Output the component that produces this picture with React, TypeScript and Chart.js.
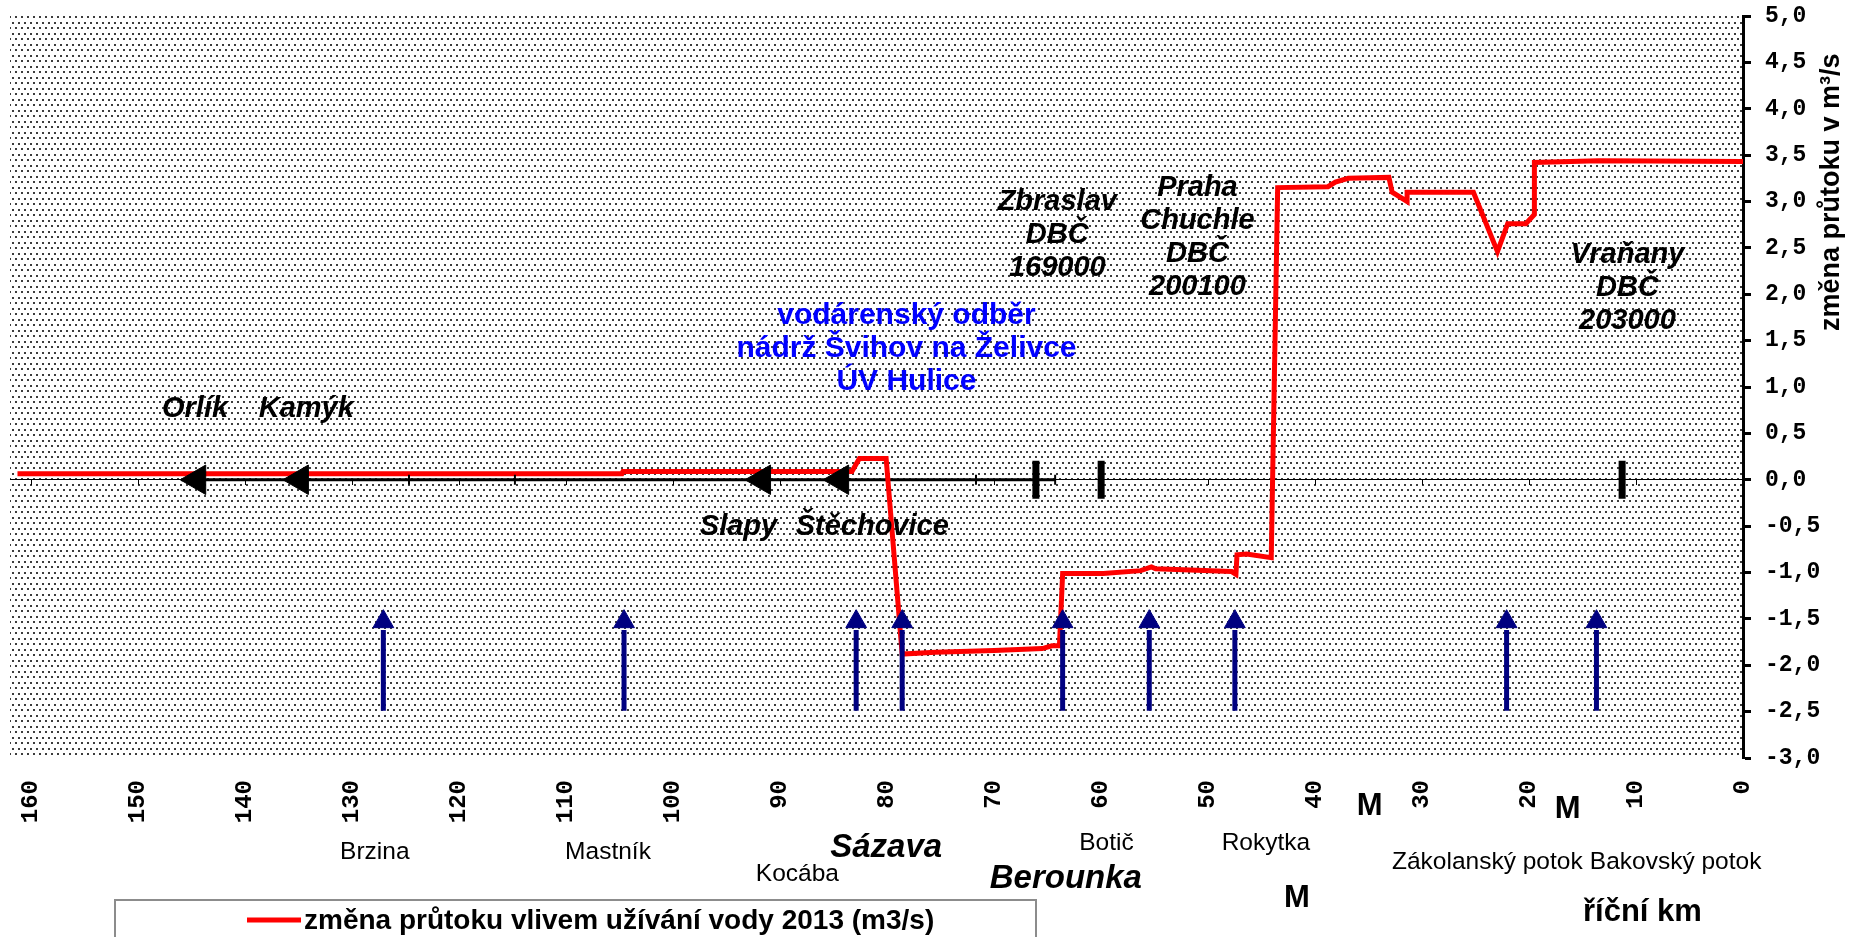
import React, { useEffect, useRef } from 'react';
import { Chart, registerables } from 'chart.js';

Chart.register(...registerables);

const W = 1858;
const H = 937;

// ---- data ----
const seriesLabel = 'změna průtoku vlivem užívání vody 2013 (m3/s)';
const flowKm = [161.3, 104.8, 104.7, 83.3, 82.6, 80.1, 78.6, 75.5, 70.0, 65.5, 64.6, 63.9, 63.6, 59.8, 56.3, 55.3, 54.9, 47.8, 47.4, 47.3, 46.4, 44.1, 43.5, 38.8, 38.1, 36.9, 33.1, 32.8, 31.4, 31.4, 25.2, 22.95, 22.0, 20.3, 19.5, 19.5, 13.5, 0];
const flowChange = [0.065, 0.065, 0.088, 0.088, 0.23, 0.23, -1.88, -1.86, -1.84, -1.82, -1.79, -1.79, -1.01, -1.01, -0.98, -0.94, -0.96, -0.99, -1.02, -0.81, -0.80, -0.84, 3.15, 3.16, 3.21, 3.25, 3.26, 3.10, 3.00, 3.10, 3.10, 2.46, 2.76, 2.76, 2.86, 3.42, 3.44, 3.43];

const vltavaKm = [146.0, 64.3];
const reservoirKm = [144.5, 134.9, 91.7, 84.4];
const gaugeKm = [66.1, 60.0, 11.3];
const markKm = [124.7, 114.8, 71.7, 64.3];
const tributaryKm = [127.1, 104.6, 82.9, 78.6, 63.6, 55.5, 47.5, 22.1, 13.7];
const arrowShaftFrom = -2.49;
const arrowShaftTo = -1.62;
const arrowHeadAt = -1.53;

const xTickValues = [0, 10, 20, 30, 40, 50, 60, 70, 80, 90, 100, 110, 120, 130, 140, 150, 160];
const xTickLabels = ['0', '10', '20', '30', '40', '50', '60', '70', '80', '90', '100', '110', '120', '130', '140', '150', '160'];
const yTickValues = [-3, -2.5, -2, -1.5, -1, -0.5, 0, 0.5, 1, 1.5, 2, 2.5, 3, 3.5, 4, 4.5, 5];
const yTickLabels = ['-3,0', '-2,5', '-2,0', '-1,5', '-1,0', '-0,5', '0,0', '0,5', '1,0', '1,5', '2,0', '2,5', '3,0', '3,5', '4,0', '4,5', '5,0'];
const yAxisTitle = 'změna průtoku v m³/s';

const SANS = '"Liberation Sans", Arial, sans-serif';
const MONO = '"Liberation Mono", "Courier New", monospace';

// target plot-area edges in the 1858x937 picture
const AREA = { left: 10, top: 16, right: 1743, bottom: 758 };

// notes inside the plot, anchored in data units
const plotNotes = [
  { lines: ['Orlík'], km: 144.7, value: 0.766, style: 'bi', color: '#000' },
  { lines: ['Kamýk'], km: 134.3, value: 0.766, style: 'bi', color: '#000' },
  { lines: ['Slapy'], km: 93.9, value: -0.507, style: 'bi', color: '#000' },
  { lines: ['Štěchovice'], km: 81.4, value: -0.507, style: 'bi', color: '#000' },
  { lines: ['vodárenský odběr', 'nádrž Švihov na Želivce', 'ÚV Hulice'], km: 78.2, value: 1.413, style: 'b', color: '#0000ff' },
  { lines: ['Zbraslav', 'DBČ', '169000'], km: 64.1, value: 2.643, style: 'bi', color: '#000' },
  { lines: ['Praha', 'Chuchle', 'DBČ', '200100'], km: 51.0, value: 2.61, style: 'bi', color: '#000' },
  { lines: ['Vraňany', 'DBČ', '203000'], km: 10.8, value: 2.071, style: 'bi', color: '#000' },
];

// notes under the axis (km, offset below plot)
const axisNotes = [
  { text: 'Brzina', km: 127.9, dy: 94, style: 'r' },
  { text: 'Mastník', km: 106.1, dy: 94, style: 'r' },
  { text: 'Kocába', km: 88.4, dy: 116, style: 'r' },
  { text: 'Sázava', km: 80.1, dy: 90, style: 'big' },
  { text: 'Berounka', km: 63.3, dy: 121, style: 'big' },
  { text: 'Botič', km: 59.5, dy: 85, style: 'r' },
  { text: 'Rokytka', km: 44.6, dy: 85, style: 'r' },
  { text: 'Zákolanský potok', km: 23.9, dy: 104, style: 'r' },
  { text: 'Bakovský potok', km: 6.3, dy: 104, style: 'r' },
  { text: 'M', km: 34.9, dy: 48, style: 'm' },
  { text: 'M', km: 16.4, dy: 51, style: 'm' },
  { text: 'M', km: 41.7, dy: 140, style: 'm' },
  { text: 'říční km', km: 9.4, dy: 154, style: 'm' },
];

const fontFor = (s: string) => {
  switch (s) {
    case 'bi': return `italic bold 29px ${SANS}`;
    case 'b': return `bold 30px ${SANS}`;
    case 'big': return `italic bold 33px ${SANS}`;
    case 'm': return `bold 31px ${SANS}`;
    default: return `24.5px ${SANS}`;
  }
};

let patternCanvas: HTMLCanvasElement | null = null;
function getPattern(ctx: CanvasRenderingContext2D) {
  if (!patternCanvas) {
    patternCanvas = document.createElement('canvas');
    patternCanvas.width = 12;
    patternCanvas.height = 11;
    const g = patternCanvas.getContext('2d')!;
    g.fillStyle = '#ffffff';
    g.fillRect(0, 0, 12, 11);
    g.fillStyle = '#3c3c3c';
    [[0, 0], [6, 0], [3, 5], [9, 5]].forEach(([x, y]) => g.fillRect(x, y, 2, 2));
  }
  return ctx.createPattern(patternCanvas, 'repeat')!;
}

const sizes = { xAxisH: 179, yAxisW: 115 };

const decorPlugin = {
  id: 'decor',
  beforeDraw(chart: any) {
    const { ctx, chartArea: a } = chart;
    ctx.save();
    ctx.fillStyle = '#ffffff';
    ctx.fillRect(0, 0, chart.width, chart.height);
    ctx.fillStyle = getPattern(ctx);
    ctx.fillRect(a.left, a.top, a.right - a.left, a.bottom - a.top);
    ctx.restore();
  },
  beforeDatasetsDraw(chart: any) {
    const { ctx } = chart;
    const xs = chart.scales.x;
    const y0 = Math.round(chart.scales.y.getPixelForValue(0));
    ctx.save();
    ctx.strokeStyle = '#000';
    ctx.lineWidth = 1;
    ctx.beginPath();
    xs.ticks.forEach((t: any) => {
      if (t.value === 0) return;
      const x = Math.round(xs.getPixelForValue(t.value)) + 0.5;
      ctx.moveTo(x, y0);
      ctx.lineTo(x, y0 + 5);
    });
    ctx.stroke();
    ctx.restore();
  },
  afterDraw(chart: any) {
    const { ctx, chartArea: a } = chart;
    const xs = chart.scales.x;
    const ys = chart.scales.y;
    ctx.save();
    ctx.textAlign = 'center';
    ctx.textBaseline = 'middle';
    plotNotes.forEach((n) => {
      ctx.font = fontFor(n.style);
      ctx.fillStyle = n.color;
      const cx = xs.getPixelForValue(n.km);
      const cy = ys.getPixelForValue(n.value);
      const k = n.lines.length;
      n.lines.forEach((t, i) => ctx.fillText(t, cx, cy + (i - (k - 1) / 2) * 33));
    });
    ctx.fillStyle = '#000';
    axisNotes.forEach((n) => {
      ctx.font = fontFor(n.style);
      ctx.fillText(n.text, xs.getPixelForValue(n.km), a.bottom + n.dy);
    });
    // y-axis title
    ctx.save();
    ctx.translate(chart.width - 26, ys.getPixelForValue(3.1));
    ctx.rotate(-Math.PI / 2);
    ctx.font = `bold 27px ${SANS}`;
    ctx.fillText(yAxisTitle, 0, 0);
    ctx.restore();
    // legend box
    const lx = 115, ly = 900, lw = 921, lh = 50;
    ctx.fillStyle = '#ffffff';
    ctx.fillRect(lx, ly, lw, lh);
    ctx.strokeStyle = '#8c8c8c';
    ctx.lineWidth = 2;
    ctx.strokeRect(lx, ly, lw, lh);
    const ds = chart.data.datasets[0];
    ctx.strokeStyle = ds.borderColor;
    ctx.lineWidth = 5;
    ctx.beginPath();
    ctx.moveTo(247, 920);
    ctx.lineTo(301, 920);
    ctx.stroke();
    ctx.fillStyle = '#000';
    ctx.textAlign = 'left';
    ctx.font = `bold 28px ${SANS}`;
    ctx.fillText(ds.label, 304, 921);
    ctx.restore();
  },
};

export default function App() {
  const ref = useRef<HTMLCanvasElement | null>(null);

  useEffect(() => {
    if (!ref.current) return;
    const shaftData: any[] = [];
    tributaryKm.forEach((km) => {
      shaftData.push({ x: km, y: arrowShaftFrom }, { x: km, y: arrowShaftTo }, { x: km, y: null });
    });
    const padding = { left: AREA.left, top: AREA.top, right: 0, bottom: 0 };
    const chart = new Chart(ref.current, {
      type: 'line',
      data: {
        datasets: [
          {
            label: seriesLabel,
            data: flowKm.map((x, i) => ({ x, y: flowChange[i] })),
            borderColor: '#ff0000',
            borderWidth: 5,
            pointRadius: 0,
            tension: 0,
            order: 3,
          } as any,
          {
            label: 'Vltava',
            data: vltavaKm.map((x) => ({ x, y: 0 })),
            borderColor: '#000000',
            borderWidth: 3,
            pointRadius: 0,
            order: 4,
          },
          {
            type: 'scatter',
            label: 'nádrže',
            data: reservoirKm.map((x) => ({ x, y: 0 })),
            pointStyle: 'triangle',
            rotation: -90,
            pointRadius: 17,
            backgroundColor: '#000',
            borderColor: '#000',
            borderWidth: 1,
            order: 1,
          } as any,
          {
            type: 'scatter',
            label: 'profily',
            data: gaugeKm.map((x) => ({ x, y: 0 })),
            pointStyle: 'line',
            rotation: 90,
            pointRadius: 19,
            borderColor: '#000',
            backgroundColor: '#000',
            borderWidth: 7,
            order: 1,
          } as any,
          {
            type: 'scatter',
            label: 'značky',
            data: markKm.map((x) => ({ x, y: 0 })),
            pointStyle: 'line',
            rotation: 90,
            pointRadius: 5,
            borderColor: '#000',
            backgroundColor: '#000',
            borderWidth: 2,
            order: 2,
          } as any,
          {
            label: 'přítoky',
            data: shaftData,
            borderColor: '#000080',
            borderWidth: 5,
            pointRadius: 0,
            spanGaps: false,
            order: 0,
          },
          {
            type: 'scatter',
            label: 'přítoky hrot',
            data: tributaryKm.map((x) => ({ x, y: arrowHeadAt })),
            pointStyle: 'triangle',
            rotation: 0,
            pointRadius: 12,
            backgroundColor: '#000080',
            borderColor: '#000080',
            borderWidth: 1,
            order: 0,
          } as any,
        ],
      },
      options: {
        animation: false,
        responsive: false,
        maintainAspectRatio: false,
        events: [],
        layout: { autoPadding: false, padding },
        plugins: { legend: { display: false }, tooltip: { enabled: false }, title: { display: false } },
        scales: {
          x: {
            type: 'linear',
            reverse: true,
            min: 0,
            max: 162,
            afterBuildTicks: (s: any) => { s.ticks = xTickValues.map((v) => ({ value: v })); },
            afterFit: (s: any) => { s.height = sizes.xAxisH; s.paddingLeft = 0; s.paddingRight = 0; s.paddingTop = 0; s.paddingBottom = 0; },
            grid: { display: false },
            border: { display: false },
            ticks: {
              minRotation: 90,
              maxRotation: 90,
              padding: 14,
              color: '#000',
              font: { family: MONO, size: 24, weight: 'bold' },
              callback: (v: any) => xTickLabels[xTickValues.indexOf(Number(v))] ?? '',
            },
          },
          y: {
            type: 'linear',
            position: 'right',
            min: -3,
            max: 5,
            afterBuildTicks: (s: any) => { s.ticks = yTickValues.map((v) => ({ value: v })); },
            afterFit: (s: any) => { s.width = sizes.yAxisW; s.paddingTop = 0; s.paddingBottom = 0; s.paddingLeft = 0; s.paddingRight = 0; },
            grid: {
              color: (c: any) => (c.tick && c.tick.value === 0 ? '#000000' : 'rgba(0,0,0,0)'),
              lineWidth: 1,
              tickColor: '#000',
              tickLength: 8,
              tickWidth: 3,
            },
            border: { display: true, color: '#000', width: 3 },
            ticks: {
              padding: 14,
              color: '#000',
              font: { family: MONO, size: 23, weight: 'bold' },
              callback: (v: any) => yTickLabels[yTickValues.indexOf(Number(v))] ?? '',
            },
          },
        },
      } as any,
      plugins: [decorPlugin],
    });
    // nudge the layout so that the plot area lands where it is in the picture
    for (let i = 0; i < 4; i++) {
      const a = chart.chartArea;
      if (!a) break;
      const dl = AREA.left - a.left;
      const dt = AREA.top - a.top;
      const db = a.bottom - AREA.bottom;
      const dr = a.right - AREA.right;
      if (Math.abs(dl) < 0.5 && Math.abs(dt) < 0.5 && Math.abs(db) < 0.5 && Math.abs(dr) < 0.5) break;
      padding.left += dl;
      padding.top += dt;
      sizes.xAxisH += db;
      sizes.yAxisW += dr;
      (chart.config as any).options.layout.padding = { ...padding };
      chart.update();
    }
    return () => chart.destroy();
  }, []);

  return (
    <div style={{ position: 'fixed', left: 0, top: 0, width: W, height: H, background: '#fff' }}>
      <canvas ref={ref} width={W} height={H} style={{ display: 'block', width: W, height: H }} />
    </div>
  );
}
